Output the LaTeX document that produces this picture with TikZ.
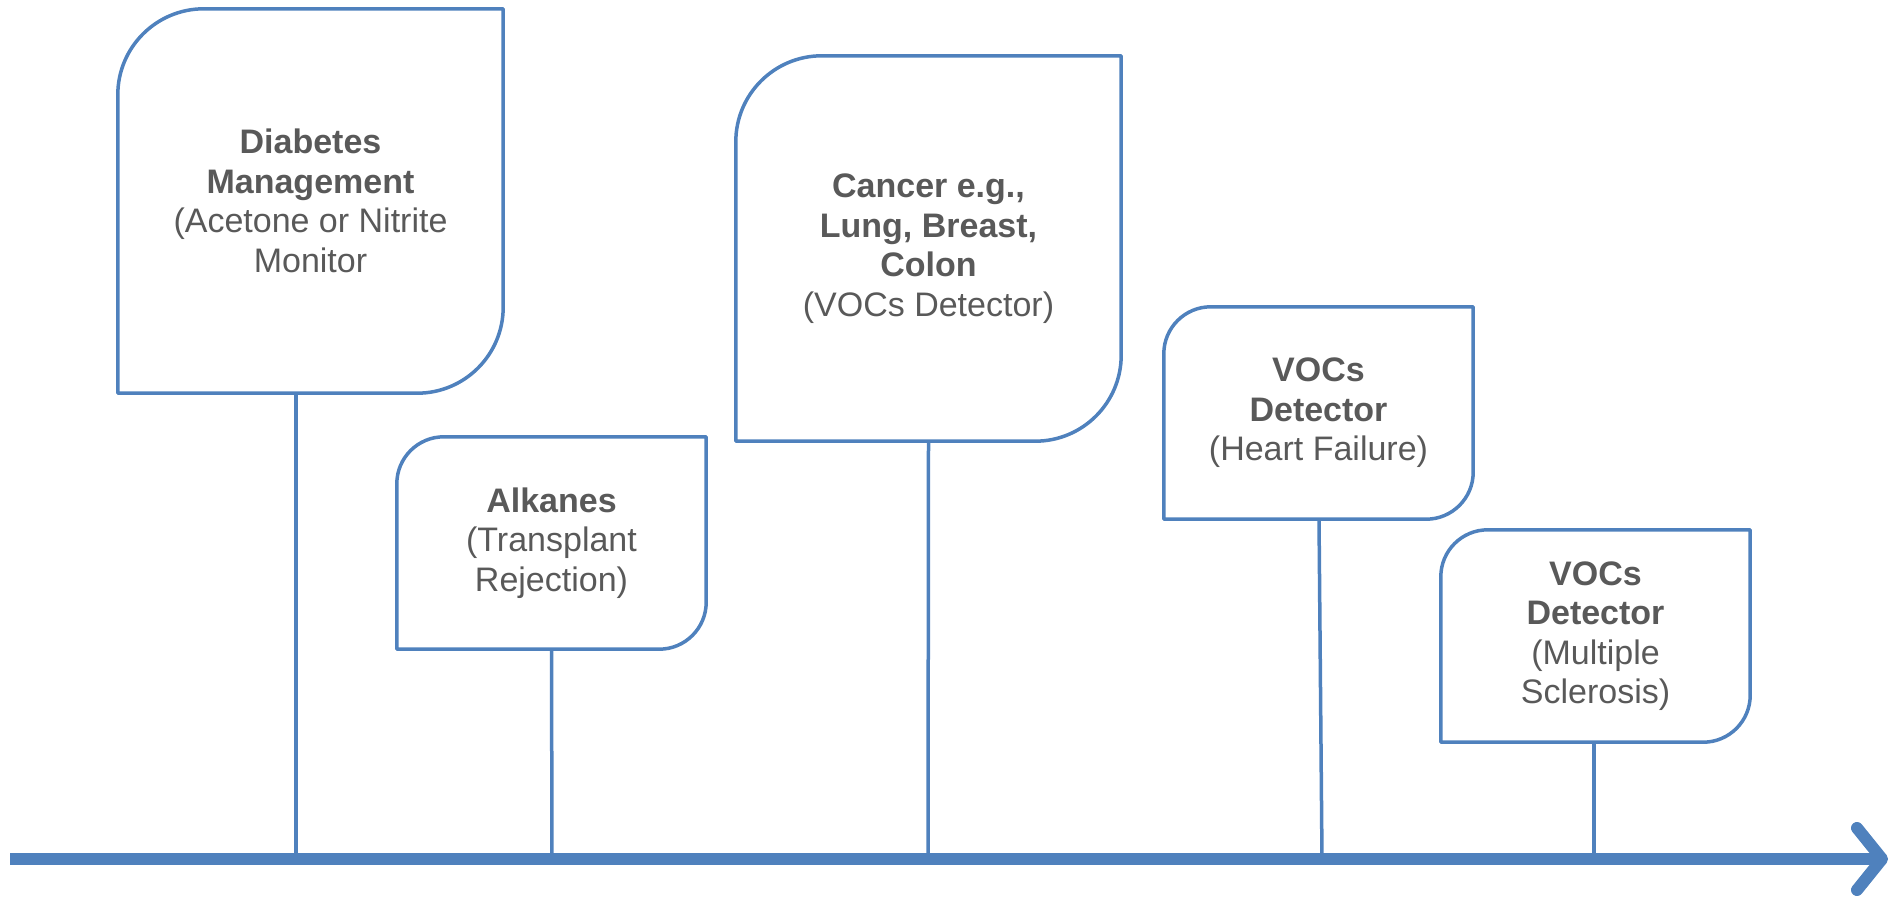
\documentclass[tikz,border=0pt]{standalone}
\usepackage{fontspec}
\setmainfont{Liberation Sans}
\definecolor{lineblue}{HTML}{4F81BD}
\definecolor{txtgray}{HTML}{595959}
\tikzset{
  x=1pt, y=1pt,
  card/.style={draw=none, rectangle, align=center, text=txtgray, inner sep=0pt,
    font=\fontsize{34}{39.5}\selectfont},
  cardline/.style={draw=lineblue, line width=3.5pt, line join=round},
  stem/.style={draw=lineblue, line width=3.5pt},
  axisline/.style={draw=lineblue, line width=12pt},
  tipline/.style={draw=lineblue, line width=12pt, line cap=round, line join=round},
}
\newcommand{\cardoutline}[2]{%
  \draw[cardline] (#1.north east) -- ([yshift=#2]#1.south east)
    arc[start angle=0, end angle=-90, radius=#2] -- (#1.south west)
    -- ([yshift=-#2]#1.north west)
    arc[start angle=180, end angle=90, radius=#2] -- cycle;}
\begin{document}
\begin{tikzpicture}
\useasboundingbox (0,0) rectangle (1898,898);

\node[card, minimum width=385pt, minimum height=384pt] (d1) at (310.5,697)
  {\textbf{Diabetes}\\\textbf{Management}\\(Acetone or Nitrite\\Monitor};
\node[card, minimum width=309pt, minimum height=212pt] (d2) at (551.5,355)
  {\textbf{Alkanes}\\(Transplant\\Rejection)};
\node[card, minimum width=385pt, minimum height=385pt] (d3) at (928.5,649.5)
  {\textbf{Cancer e.g.,}\\\textbf{Lung, Breast,}\\\textbf{Colon}\\(VOCs Detector)};
\node[card, minimum width=309pt, minimum height=212pt] (d4) at (1318.5,485)
  {\textbf{VOCs}\\\textbf{Detector}\\(Heart Failure)};
\node[card, minimum width=309pt, minimum height=212pt] (d5) at (1595.5,262)
  {\textbf{VOCs}\\\textbf{Detector}\\(Multiple\\Sclerosis)};

\cardoutline{d1}{86pt}
\cardoutline{d2}{47pt}
\cardoutline{d3}{86pt}
\cardoutline{d4}{47pt}
\cardoutline{d5}{47pt}

\coordinate (ax0) at (10,39);
\coordinate (tip) at (1882,39);
\coordinate (a1) at (296,39);
\coordinate (a2) at (552,39);
\coordinate (a3) at (928,39);
\coordinate (a4) at (1322,39);
\coordinate (a5) at (1594,39);

\draw[stem] ([xshift=-14.5pt]d1.south) -- (a1);
\draw[stem] (d2.south) -- (a2);
\draw[stem] (d3.south) -- (a3);
\draw[stem] ([xshift=0.5pt]d4.south) -- (a4);
\draw[stem] ([xshift=-1.5pt]d5.south) -- (a5);

\draw[axisline] (ax0) -- (tip);
\draw[tipline] ([shift={(-25,31)}]tip) -- (tip) -- ([shift={(-25,-31)}]tip);
\end{tikzpicture}
\end{document}
